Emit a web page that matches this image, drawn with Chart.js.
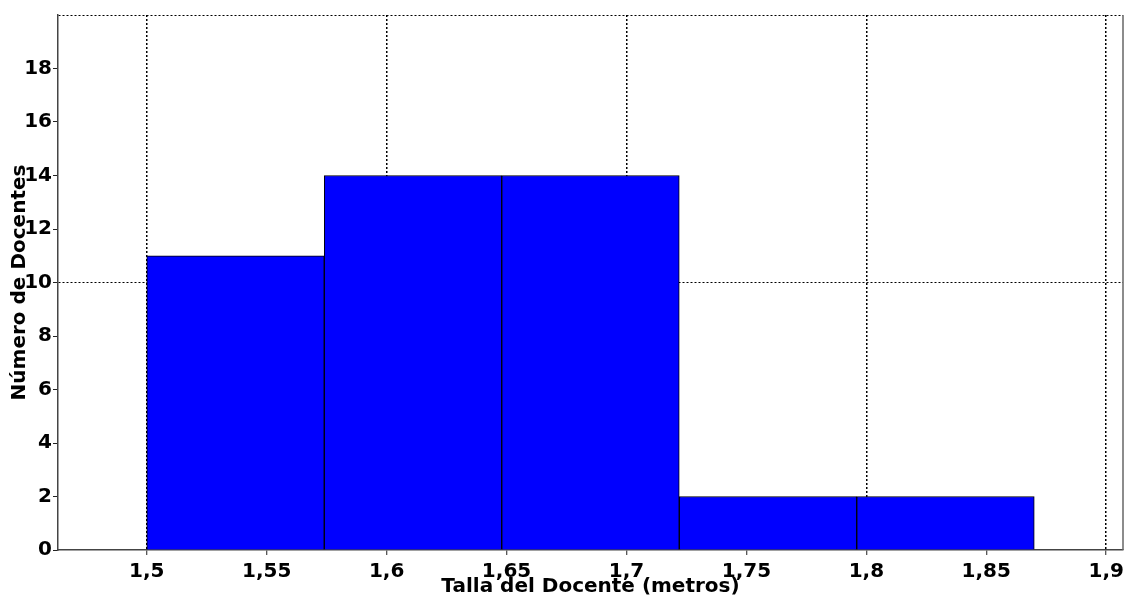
<!DOCTYPE html>
<html>
<head>
<meta charset="utf-8">
<title>Talla del Docente</title>
<script src="https://cdn.jsdelivr.net/npm/chart.js@4.4.0/dist/chart.umd.min.js"></script>
<style>
    body { margin: 0; background: #ffffff; }
    #canvasTalla { display: block; }
</style>
</head>
<body>
<canvas id="canvasTalla" width="1131" height="600"></canvas>
<script>
// histogram data - class edges (metros) and number of teachers per class
var binEdges = [1.5, 1.574, 1.648, 1.722, 1.796, 1.87];
var counts = [11, 14, 14, 2, 2];

// axis ticks
var xTicks = [1.5, 1.55, 1.6, 1.65, 1.7, 1.75, 1.8, 1.85, 1.9];
var yTicks = [0, 2, 4, 6, 8, 10, 12, 14, 16, 18, 20];
var xMin = 1.463;
var xMax = 1.907;
var yMin = 0;
var yMax = 20;

var go = {};

document.addEventListener("DOMContentLoaded", main);

//============================================================= main entry point
function main()
{
    // build bar points at the middle of each class
    var points = [];
    for (var i = 0; i < counts.length; ++ i)
    {
        points.push({ x: (binEdges[i] + binEdges[i + 1]) / 2, y: counts[i] });
    }

    var tickFont = { family: "DejaVu Sans", size: 20, weight: "bold" };

    // solid line on the right side of the plot area
    var rightBorder =
    {
        id: "rightBorder",
        afterDraw: function (chart)
        {
            var a = chart.chartArea;
            var ctx = chart.ctx;
            ctx.save();
            ctx.strokeStyle = "#666666";
            ctx.lineWidth = 1.5;
            ctx.beginPath();
            ctx.moveTo(a.right, a.top);
            ctx.lineTo(a.right, a.bottom);
            ctx.stroke();
            ctx.restore();
        }
    };

    var config =
    {
        type: "bar",
        data:
        {
            datasets:
            [{
                data: points,
                backgroundColor: "#0000ff",
                borderColor: "#000000",
                borderWidth: 1,
                barThickness: "flex", // bars touch each other like a histogram
                barPercentage: 1,
                categoryPercentage: 1
            }]
        },
        options:
        {
            responsive: false,
            animation: false,
            devicePixelRatio: 1,
            layout: { padding: { top: 15, right: 8, bottom: 0, left: 0 } },
            plugins:
            {
                legend: { display: false },
                tooltip: { enabled: false }
            },
            scales:
            {
                x:
                {
                    type: "linear",
                    min: xMin,
                    max: xMax,
                    offset: false,
                    afterBuildTicks: function (axis)
                    {
                        axis.ticks = xTicks.map(function (v) { return { value: v }; });
                    },
                    afterFit: function (axis) { axis.height = 50; },
                    ticks:
                    {
                        color: "#000000",
                        font: tickFont,
                        padding: 5,
                        maxRotation: 0,
                        autoSkip: false,
                        callback: function (value) { return String(value).replace(".", ","); }
                    },
                    grid:
                    {
                        offset: false,
                        lineWidth: 1.5,
                        color: function (c)
                        {
                            var v = c.tick ? c.tick.value * 10 : 0.5;
                            return Math.abs(v - Math.round(v)) < 1e-6 ? "#000000" : "rgba(0,0,0,0)";
                        },
                        tickColor: "#222222",
                        tickLength: 5,
                        tickWidth: 1
                    },
                    border: { color: "#444444", width: 1.5, dash: [2, 2] },
                    title:
                    {
                        display: true,
                        text: "Talla del Docente (metros)",
                        color: "#000000",
                        font: tickFont,
                        padding: { top: 0, bottom: 1 }
                    }
                },
                y:
                {
                    min: yMin,
                    max: yMax,
                    afterBuildTicks: function (axis)
                    {
                        axis.ticks = yTicks.map(function (v) { return { value: v }; });
                    },
                    afterFit: function (axis) { axis.width = 58; },
                    ticks:
                    {
                        color: "#000000",
                        font: tickFont,
                        padding: 1,
                        callback: function (value) { return value === yMax ? "" : String(value); }
                    },
                    grid:
                    {
                        lineWidth: 1,
                        color: function (c)
                        {
                            var v = c.tick ? c.tick.value : 0;
                            return (v === 10 || v === 20) ? "#000000" : "rgba(0,0,0,0)";
                        },
                        tickColor: function (c)
                        {
                            return (c.tick && c.tick.value === yMax) ? "rgba(0,0,0,0)" : "#222222";
                        },
                        tickLength: 5,
                        tickWidth: 1
                    },
                    border: { color: "#444444", width: 1.5, dash: [2, 2] },
                    title:
                    {
                        display: true,
                        text: "Número de Docentes",
                        color: "#000000",
                        font: tickFont,
                        padding: { top: 8, bottom: 0 }
                    }
                }
            }
        },
        plugins: [rightBorder]
    };

    go.canvas = document.getElementById("canvasTalla");
    go.chart = new Chart(go.canvas.getContext("2d"), config);
}
</script>
</body>
</html>
